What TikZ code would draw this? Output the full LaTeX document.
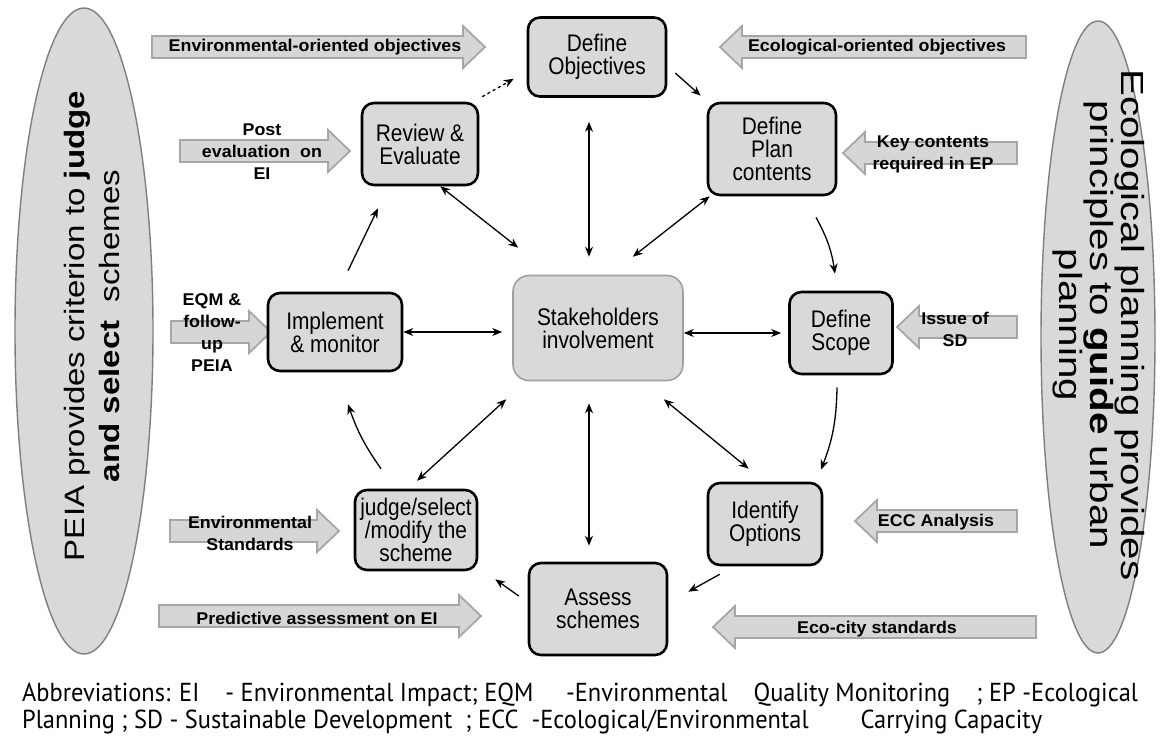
\documentclass[tikz,border=0pt]{standalone}
\usepackage{fontspec}
\setmainfont{Liberation Sans}
\newfontfamily\boxfont{Liberation Sans}[FakeStretch=0.87]
\newfontfamily\ovalfont{Liberation Sans}[FakeStretch=1.18]
\newfontfamily\ovalwidefont{Liberation Sans}[FakeStretch=1.26]
\newfontfamily\tagfont{Liberation Sans}[FakeStretch=1.05]
\newfontfamily\notefont{PT Sans}[FakeStretch=0.94]
\usetikzlibrary{arrows.meta,shapes.geometric,calc}

\definecolor{fillgray}{HTML}{D9D9D9}
\definecolor{ovaledge}{HTML}{7F7F7F}
\definecolor{arrowedge}{HTML}{A6A6A6}
\definecolor{arrowfill}{HTML}{D6D6D6}
\definecolor{softedge}{HTML}{A0A0A0}

% wide grey input arrows: right-pointing (tail, tip, y) and left-pointing (tip, tail, y)
\newcommand\feedR[3]{\draw[feed] (#1,{#3-11}) -- ({#2-22},{#3-11}) -- ({#2-22},{#3-21}) -- (#2,#3)
  -- ({#2-22},{#3+21}) -- ({#2-22},{#3+11}) -- (#1,{#3+11}) -- cycle;}
\newcommand\feedL[3]{\draw[feed] (#2,{#3-11}) -- ({#1+22},{#3-11}) -- ({#1+22},{#3-21}) -- (#1,#3)
  -- ({#1+22},{#3+21}) -- ({#1+22},{#3+11}) -- (#2,{#3+11}) -- cycle;}

\begin{document}
\begin{tikzpicture}[x=1pt,y=-1pt,
  stage/.style={draw=black, line width=2.6pt, rounded corners=12pt, fill=fillgray,
    align=center, inner sep=0pt, font=\boxfont\fontsize{24}{23}\selectfont},
  hub/.style={stage, draw=softedge, line width=1.6pt, rounded corners=16pt},
  oval/.style={ellipse, draw=ovaledge, fill=fillgray, line width=1.4pt, inner sep=0pt},
  ovaltext/.style={align=center, inner sep=0pt},
  feed/.style={draw=arrowedge, fill=arrowfill, line width=1.8pt},
  feedtext/.style={align=center, inner sep=0pt, font=\tagfont\bfseries\fontsize{17}{22}\selectfont},
  flow/.style={-{Stealth[length=10pt,width=8pt]}, line width=1.3pt},
  mutual/.style={{Stealth[length=10pt,width=8pt]}-{Stealth[length=10pt,width=8pt]}, line width=1.3pt},
  note/.style={anchor=west, inner sep=0pt, font=\notefont\fontsize{26}{26}\selectfont}
]
\useasboundingbox[fill=white] (0,0) rectangle (1161,740);

% side ovals
\node[oval, minimum width=138, minimum height=646] (peia) at (84,331) {};
\node[oval, minimum width=114, minimum height=632] (ecoplan) at (1098,337) {};
\node[ovaltext, rotate=90, font=\ovalfont\fontsize{28}{35}\selectfont] (peiatext) at (92,326)
  {PEIA provides criterion to \textbf{judge}\\\textbf{and select}\ \ schemes};
\node[ovaltext, rotate=-90, font=\ovalwidefont\fontsize{32}{28.5}\selectfont] (ecotext) at (1099,325)
  {Ecological planning provides\\principles to \textbf{guide} urban\\planning};

% input arrows
\feedR{152}{485}{47}
\node[feedtext] (envobj) at (315,47) {Environmental-oriented objectives};
\feedL{720}{1026}{47}
\node[feedtext] (ecoobj) at (877,47) {Ecological-oriented objectives};
\feedR{180}{350}{151}
\node[feedtext] (post) at (262,152) {Post\\evaluation\ \ on\\EI};
\feedL{843}{1017}{153}
\node[feedtext] (keyc) at (933,154) {Key contents\\required in EP};
\feedR{171}{271}{332}
\node[feedtext] (eqm) at (212,333) {EQM \&\\follow-\\up\\PEIA};
\feedL{897}{1017}{327}
\node[feedtext] (issue) at (955,329) {Issue of\\SD};
\feedR{170}{339}{531}
\node[feedtext] (envstd) at (250,533) {Environmental\\Standards};
\feedL{855}{1017}{521}
\node[feedtext] (ecc) at (936,522) {ECC Analysis};
\feedR{159}{481}{616}
\node[feedtext] (predict) at (317,618) {Predictive assessment on EI};
\feedL{713}{1036}{627}
\node[feedtext] (ecocity) at (877,629) {Eco-city standards};

% planning stages
\node[stage, minimum width=138, minimum height=79] (objectives) at (597,57) {Define\\Objectives};
\node[stage, minimum width=128, minimum height=92] (plan) at (772,149) {Define\\Plan\\contents};
\node[stage, minimum width=116, minimum height=82] (review) at (420,144) {Review \&\\Evaluate};
\node[stage, minimum width=134, minimum height=78] (implement) at (335,332) {Implement\\\& monitor};
\node[hub, minimum width=170, minimum height=105] (stake) at (598,328) {Stakeholders\\involvement};
\node[stage, minimum width=103, minimum height=82] (scope) at (841,333) {Define\\Scope};
\node[stage, minimum width=114, minimum height=82] (options) at (765,524) {Identify\\Options};
\node[stage, minimum width=122, minimum height=80] (judge) at (416,530) {judge/select\\/modify the\\scheme};
\node[stage, minimum width=138, minimum height=92] (assess) at (598,609) {Assess\\schemes};

% planning cycle
\draw[flow, dashed] ($(review.north east)+(3,-5)$) -- ($(objectives.south west)+(-13,-19)$);
\draw[flow] ($(objectives.east)+(8,16)$) -- ($(plan.north west)+(-6,-6)$);
\draw[flow] ($(plan.south)+(44,21)$) to[bend left=10] ($(scope.north)+(-6,-17)$);
\draw[flow] ($(scope.south)+(-4,12)$) to[bend left=10] ($(options.north)+(56,-12)$);
\draw[flow] ($(options.south west)+(13,8)$) -- ($(assess.north east)+(20,30)$);
\draw[flow] ($(assess.west)+(-9,-13)$) -- ($(judge.south east)+(17,8)$);
\draw[flow] ($(judge.north)+(-35,-20)$) to[bend left=8] ($(implement.south)+(13,32)$);
\draw[flow] ($(implement.north)+(13,-21)$) -- ($(review.south)+(-42,22)$);

% links with the stakeholders
\draw[mutual] ($(objectives.south)+(-8,24)$) -- ($(stake.north)+(-9,-18)$);
\draw[mutual] ($(review.south east)+(-39,0)$) -- ($(stake.north west)+(6,-27)$);
\draw[mutual] ($(plan.south west)+(3,0)$) -- ($(stake.north east)+(-51,-18)$);
\draw[mutual] (implement.east) -- ([xshift=-10pt]implement.east -| stake.west);
\draw[mutual] (stake.east |- scope.west) -- ([xshift=-7pt]scope.west);
\draw[mutual] ($(judge.north)+(1,-8)$) -- ($(stake.south west)+(-6,18)$);
\draw[mutual] ($(stake.south)+(-9,22)$) -- ($(assess.north)+(-9,-16)$);
\draw[mutual] ($(stake.south east)+(-20,18)$) -- ($(options.north west)+(42,-13)$);

% abbreviations
\node[note] (abbr1) at (22,695) {Abbreviations: EI\quad - Environmental Impact; EQM\quad\ -Environmental\quad Quality Monitoring\quad ; EP -Ecological};
\node[note] (abbr2) at (22,722) {Planning ; SD - Sustainable Development\ \ ; ECC\ \ -Ecological/Environmental\qquad Carrying Capacity};
\end{tikzpicture}
\end{document}
